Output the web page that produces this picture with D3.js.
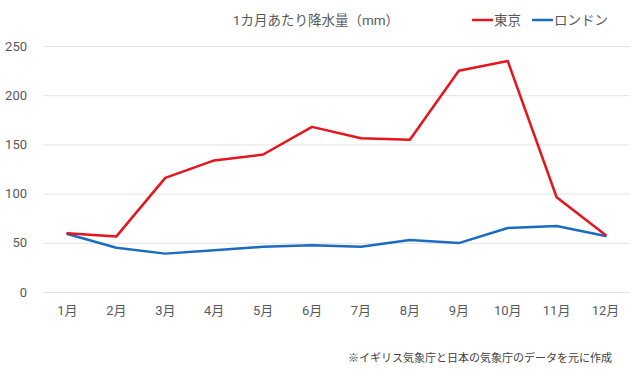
<!DOCTYPE html>
<html>
<head>
<meta charset="utf-8">
<script src="https://cdn.jsdelivr.net/npm/d3@7"></script>
<style>
  html, body { margin: 0; padding: 0; background: #fff; }
  svg { display: block; font-family: Roboto, "Noto Sans CJK JP", sans-serif; }
</style>
</head>
<body>
<svg id="chart" width="640" height="380"></svg>
<script>
const months = ["1月","2月","3月","4月","5月","6月","7月","8月","9月","10月","11月","12月"];
const tokyo = [59.7, 56.5, 116.0, 133.7, 139.7, 167.8, 156.2, 154.7, 224.9, 234.8, 96.3, 57.9];
const london = [59.0, 45.0, 39.0, 42.5, 46.0, 47.5, 46.0, 52.8, 49.7, 65.0, 67.0, 57.0];
const yTicks = [0, 50, 100, 150, 200, 250];
const seriesNames = ["東京", "ロンドン"];
const seriesColors = ["#e8141c", "#1a6cc0"];
const title = "1カ月あたり降水量（mm）";
const note = "※イギリス気象庁と日本の気象庁のデータを元に作成";

const svg = d3.select("#chart");
const mLeft = 43, mRight = 630, mTop = 46, mBottom = 292;
const textColor = "#595959";

const x = d3.scaleBand().domain(months).range([mLeft, mRight]);
const y = d3.scaleLinear().domain([0, 250]).range([mBottom, mTop]);

// gridlines
svg.append("g").selectAll("line").data(yTicks).join("line")
  .attr("x1", mLeft).attr("x2", mRight)
  .attr("y1", d => y(d) + 0.5).attr("y2", d => y(d) + 0.5)
  .attr("stroke", "#e3e3e3").attr("stroke-width", 1);

// y axis labels
const yAxis = d3.axisLeft(y).tickValues(yTicks).tickSize(0).tickPadding(0);
svg.append("g").attr("transform", `translate(${mLeft - 16},0)`).call(yAxis)
  .call(g => g.select(".domain").remove())
  .call(g => g.selectAll("text").attr("fill", textColor).style("font-size", "13px").style("font-family", "Roboto, 'Noto Sans CJK JP', sans-serif"));

// x axis labels
const xAxis = d3.axisBottom(x).tickSize(0).tickPadding(0);
svg.append("g").attr("transform", `translate(0,${mBottom + 14})`).call(xAxis)
  .call(g => g.select(".domain").remove())
  .call(g => g.selectAll("text").attr("fill", textColor).style("font-size", "13px").style("font-family", "Roboto, 'Noto Sans CJK JP', sans-serif"));

// lines
const line = d3.line().x((d, i) => x(months[i]) + x.bandwidth() / 2).y(d => y(d));
[london, tokyo].forEach((data, k) => {
  const idx = k === 0 ? 1 : 0;
  svg.append("path").datum(data)
    .attr("fill", "none")
    .attr("stroke", seriesColors[idx])
    .attr("stroke-width", 2.5)
    .attr("stroke-linejoin", "round")
    .attr("stroke-linecap", "round")
    .attr("d", line);
});

// title
svg.append("text").attr("x", 316).attr("y", 25).attr("text-anchor", "middle")
  .attr("fill", textColor).style("font-size", "13.5px").text(title);

// legend
const legendItems = [
  { name: seriesNames[0], color: seriesColors[0], x: 472 },
  { name: seriesNames[1], color: seriesColors[1], x: 532 }
];
legendItems.forEach(it => {
  svg.append("line").attr("x1", it.x).attr("x2", it.x + 21)
    .attr("y1", 20).attr("y2", 20)
    .attr("stroke", it.color).attr("stroke-width", 2.5);
  svg.append("text").attr("x", it.x + 22).attr("y", 25)
    .attr("fill", textColor).style("font-size", "13.5px").text(it.name);
});

// footnote
svg.append("text").attr("x", 612).attr("y", 362).attr("text-anchor", "end")
  .attr("fill", "#404040").style("font-size", "11px").text(note);
</script>
</body>
</html>
